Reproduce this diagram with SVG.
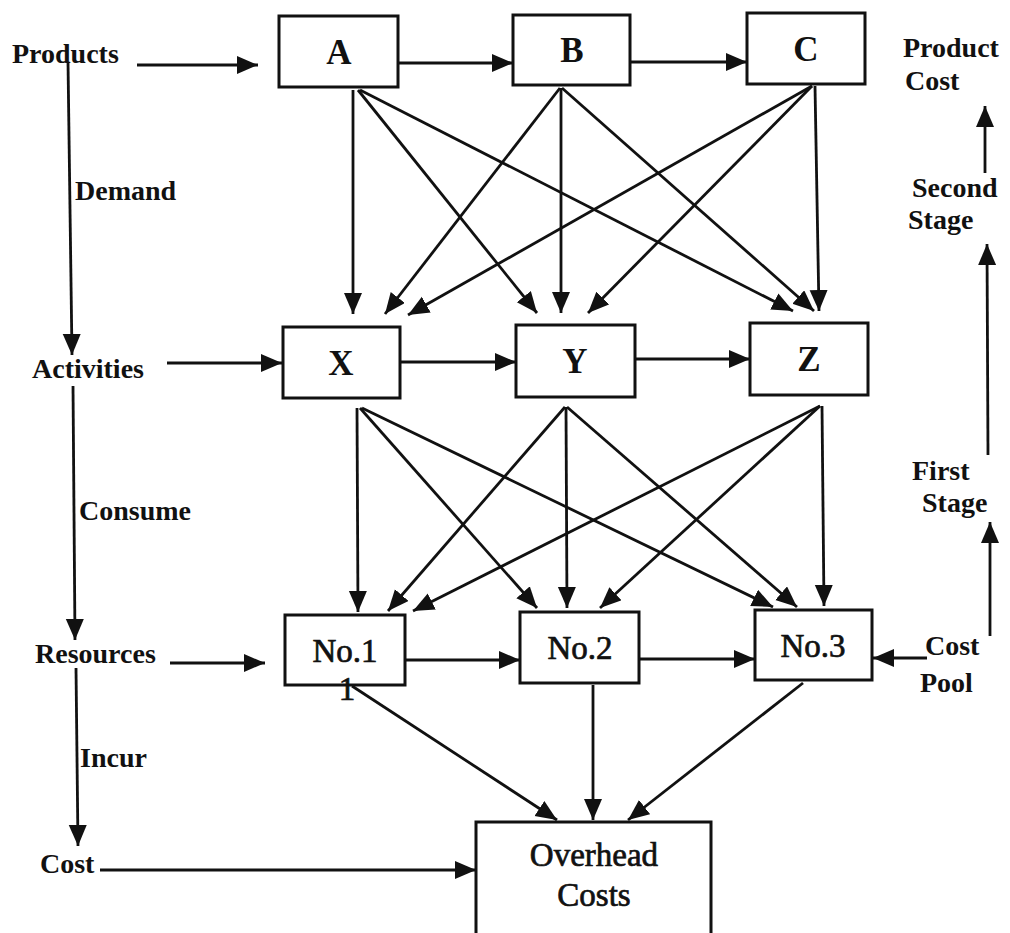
<svg xmlns="http://www.w3.org/2000/svg" width="1010" height="933" viewBox="0 0 1010 933">
<defs>
<marker id="ah" markerUnits="userSpaceOnUse" markerWidth="22" markerHeight="20" refX="21" refY="9" orient="auto">
<path d="M0,0 L21,9 L0,18 z" fill="#111"/>
</marker>
<style>
.box{fill:#fff;stroke:#111;stroke-width:3}
.ln{fill:none;stroke:#111;stroke-width:2.8;marker-end:url(#ah)}
.lb{font-family:"Liberation Serif","Times New Roman",serif;font-weight:bold;font-size:28px;fill:#111}
.bx{font-family:"Liberation Serif","Times New Roman",serif;font-weight:bold;font-size:35px;fill:#111;text-anchor:middle}
.nt{font-family:"Liberation Serif","Times New Roman",serif;font-size:33px;fill:#111;stroke:#111;stroke-width:0.7;text-anchor:middle}
</style>
</defs>
<rect width="1010" height="933" fill="#fff"/>

<g id="connectors">
<path class="ln" d="M137,65 L258,65"/>
<path class="ln" d="M398,63 L513,63"/>
<path class="ln" d="M630,62 L747,62"/>
<path class="ln" d="M167,363 L282,363"/>
<path class="ln" d="M400,362 L516,362"/>
<path class="ln" d="M635,359 L750,359"/>
<path class="ln" d="M170,663 L265,663"/>
<path class="ln" d="M405,660 L520,660"/>
<path class="ln" d="M639,659 L755,659"/>
<path class="ln" d="M927,658 L873,658"/>
<path class="ln" d="M100,870 L476,870"/>

<path class="ln" d="M353,90 L353,314"/>
<path class="ln" d="M358,90 L537,313"/>
<path class="ln" d="M360,90 L793,311"/>
<path class="ln" d="M560,88 L385,314"/>
<path class="ln" d="M561,88 L561,313"/>
<path class="ln" d="M562,88 L814,311"/>
<path class="ln" d="M812,86 L408,315"/>
<path class="ln" d="M812,86 L588,313"/>
<path class="ln" d="M815,86 L819,311"/>

<path class="ln" d="M357,408 L358,612"/>
<path class="ln" d="M360,408 L537,608"/>
<path class="ln" d="M362,408 L773,607"/>
<path class="ln" d="M565,407 L388,611"/>
<path class="ln" d="M566,407 L567,608"/>
<path class="ln" d="M567,407 L797,607"/>
<path class="ln" d="M820,406 L413,611"/>
<path class="ln" d="M820,406 L600,608"/>
<path class="ln" d="M822,406 L824,606"/>

<path class="ln" d="M352,686 L557,820"/>
<path class="ln" d="M593,685 L593,820"/>
<path class="ln" d="M803,683 L628,820"/>

<path class="ln" d="M68,62 L72,355"/>
<path class="ln" d="M73,386 L75,640"/>
<path class="ln" d="M76,668 L78,846"/>

<path class="ln" d="M985,173 L985,106"/>
<path class="ln" d="M988,455 L987,244"/>
<path class="ln" d="M990,636 L990,522"/>
</g>

<g id="node-A"><rect class="box" x="279" y="16" width="119" height="71"/><text class="bx" x="339" y="64">A</text></g>
<g id="node-B"><rect class="box" x="513" y="15" width="117" height="70"/><text class="bx" x="572" y="62">B</text></g>
<g id="node-C"><rect class="box" x="747" y="13" width="118" height="71"/><text class="bx" x="806" y="61">C</text></g>
<g id="node-X"><rect class="box" x="283" y="327" width="117" height="71"/><text class="bx" x="341" y="375">X</text></g>
<g id="node-Y"><rect class="box" x="516" y="325" width="119" height="72"/><text class="bx" x="575" y="373">Y</text></g>
<g id="node-Z"><rect class="box" x="750" y="323" width="118" height="72"/><text class="bx" x="809" y="371">Z</text></g>
<g id="node-No1"><rect class="box" x="285" y="615" width="120" height="70"/><text class="nt" x="345" y="662">No.1</text><text class="nt" x="347" y="700" font-size="24">1</text></g>
<g id="node-No2"><rect class="box" x="520" y="612" width="119" height="71"/><text class="nt" x="580" y="659">No.2</text></g>
<g id="node-No3"><rect class="box" x="755" y="610" width="117" height="70"/><text class="nt" x="813" y="657">No.3</text></g>
<g id="node-Overhead"><path class="box" d="M476,945 V822 H711 V945"/><text class="nt" x="594" y="866">Overhead</text><text class="nt" x="594" y="906">Costs</text></g>

<g id="labels">
<text class="lb" x="12" y="63">Products</text>
<text class="lb" x="75" y="200">Demand</text>
<text class="lb" x="32" y="378">Activities</text>
<text class="lb" x="79" y="520">Consume</text>
<text class="lb" x="35" y="663">Resources</text>
<text class="lb" x="80" y="767">Incur</text>
<text class="lb" x="40" y="873">Cost</text>
<text class="lb" x="903" y="57">Product</text>
<text class="lb" x="905" y="90">Cost</text>
<text class="lb" x="912" y="197">Second</text>
<text class="lb" x="908" y="229">Stage</text>
<text class="lb" x="912" y="480">First</text>
<text class="lb" x="922" y="512">Stage</text>
<text class="lb" x="925" y="655">Cost</text>
<text class="lb" x="920" y="692">Pool</text>
</g>
</svg>
